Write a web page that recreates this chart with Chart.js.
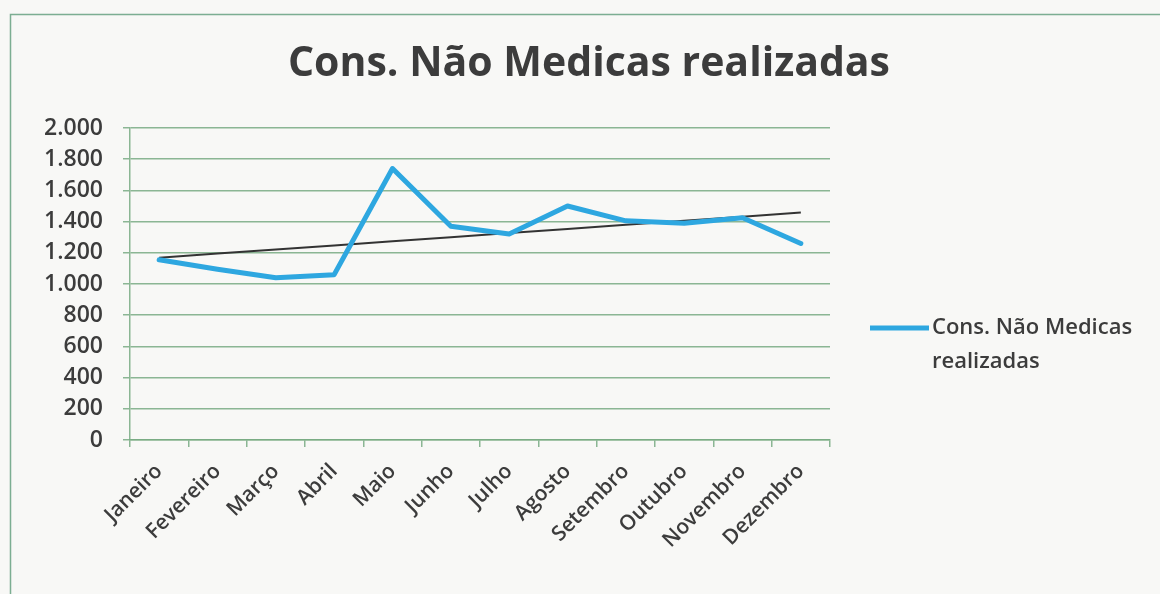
<!DOCTYPE html>
<html lang="pt">
<head>
<meta charset="utf-8">
<title>Cons. Não Medicas realizadas</title>
<script src="https://cdn.jsdelivr.net/npm/chart.js@4.4.1/dist/chart.umd.min.js"></script>
<style>
  html, body { margin: 0; padding: 0; background: #f8f8f6; }
  #wrap { width: 1160px; height: 594px; position: relative; }
</style>
</head>
<body>
<div id="wrap"><canvas id="chart"></canvas></div>
<script>
// Dados
const meses = ['Janeiro', 'Fevereiro', 'Março', 'Abril', 'Maio', 'Junho',
               'Julho', 'Agosto', 'Setembro', 'Outubro', 'Novembro', 'Dezembro'];
const consultas = [1155, 1095, 1040, 1060, 1740, 1370, 1320, 1500, 1405, 1390, 1425, 1260];
const yTicks = [0, 200, 400, 600, 800, 1000, 1200, 1400, 1600, 1800, 2000];

const tituloTexto = 'Cons. Não Medicas realizadas';
const legendaLinhas = ['Cons. Não Medicas', 'realizadas'];

const azul = '#2ea7e0';
const verdeGrade = 'rgba(120, 170, 130, 0.85)';
const textoCor = '#3c3c3c';
const fonte = '"Open Sans", "Noto Sans", sans-serif';

// linha de tendência linear (mínimos quadrados), como no Excel
function tendencia(vals) {
    const n = vals.length;
    let sx = 0, sy = 0, sxy = 0, sxx = 0;
    vals.forEach((v, i) => { sx += i; sy += v; sxy += i * v; sxx += i * i; });
    const b = (n * sxy - sx * sy) / (n * sxx - sx * sx);
    const a = (sy - b * sx) / n;
    return vals.map((v, i) => a + b * i);
}

function formatoBR(v) {
    return String(v).replace(/\B(?=(\d{3})+(?!\d))/g, '.');
}

// moldura, título e legenda desenhados à parte
const extras = {
    id: 'extras',
    beforeDraw(chart) {
        const ctx = chart.ctx;
        ctx.save();
        ctx.strokeStyle = 'rgba(110, 165, 135, 0.9)';
        ctx.lineWidth = 1.5;
        ctx.strokeRect(10.5, 14.5, 1200, 700);
        ctx.restore();
    },
    afterDraw(chart) {
        const ctx = chart.ctx;
        ctx.save();
        ctx.fillStyle = textoCor;
        ctx.font = 'bold 41px ' + fonte;
        ctx.textAlign = 'center';
        ctx.textBaseline = 'middle';
        ctx.fillText(tituloTexto, 589, 64);

        const ds = chart.data.datasets[0];
        ctx.strokeStyle = ds.borderColor;
        ctx.lineWidth = 5;
        ctx.beginPath();
        ctx.moveTo(870, 328);
        ctx.lineTo(929, 328);
        ctx.stroke();
        ctx.font = '600 22px ' + fonte;
        ctx.textAlign = 'left';
        legendaLinhas.forEach((t, i) => ctx.fillText(t, 932, 328 + i * 34));
        ctx.restore();
    }
};

const ctx = document.getElementById('chart').getContext('2d');
new Chart(ctx, {
    type: 'line',
    data: {
        labels: meses,
        datasets: [{
            label: legendaLinhas.join(' '),
            data: consultas,
            borderColor: azul,
            borderWidth: 5,
            pointRadius: 0,
            tension: 0,
            borderJoinStyle: 'round',
            borderCapStyle: 'round'
        }, {
            label: 'Linear',
            data: tendencia(consultas),
            borderColor: '#333333',
            borderWidth: 2,
            pointRadius: 0,
            tension: 0
        }]
    },
    options: {
        responsive: true,
        maintainAspectRatio: false,
        animation: false,
        layout: { padding: { left: 0, right: 330, top: 128, bottom: 0 } },
        plugins: {
            legend: { display: false },
            title: { display: false },
            tooltip: { enabled: false }
        },
        scales: {
            y: {
                min: 0,
                max: 2000,
                afterFit: s => { s.width = 130; },
                afterBuildTicks: s => { s.ticks = yTicks.map(v => ({ value: v })); },
                border: { color: verdeGrade, width: 1.5 },
                grid: { color: verdeGrade, lineWidth: 1.5, tickLength: 7 },
                ticks: {
                    color: textoCor,
                    font: { family: fonte, size: 23, weight: '600' },
                    padding: 20,
                    callback: v => formatoBR(v)
                }
            },
            x: {
                offset: true,
                afterFit: s => { s.height = 154; },
                border: { color: verdeGrade, width: 1.5 },
                grid: { offset: true, drawOnChartArea: false, color: verdeGrade, lineWidth: 1.5, tickLength: 7 },
                ticks: {
                    color: textoCor,
                    font: { family: fonte, size: 21, weight: '600' },
                    minRotation: 45,
                    maxRotation: 45,
                    padding: 12
                }
            }
        }
    },
    plugins: [extras]
});
</script>
</body>
</html>
